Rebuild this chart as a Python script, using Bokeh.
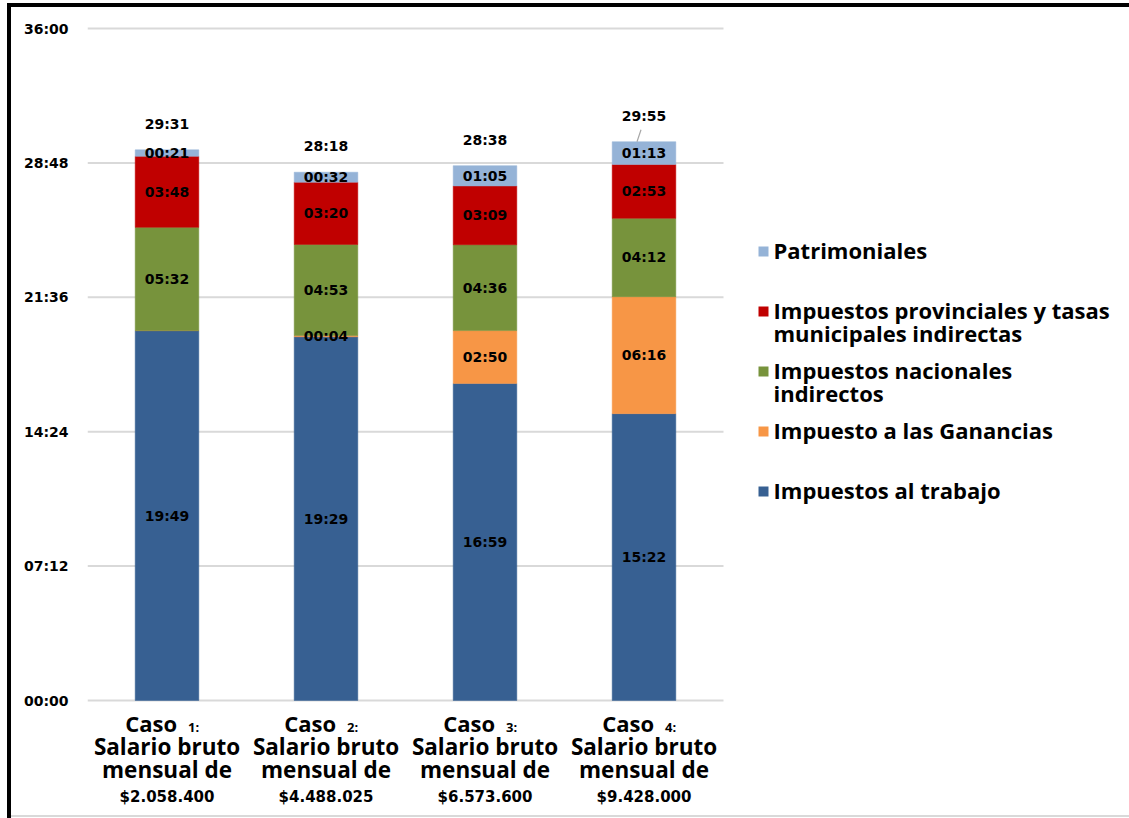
from bokeh.plotting import figure
from bokeh.models import ColumnDataSource, Range1d, FixedTicker
from bokeh.core.properties import value
from bokeh.embed import file_html
from bokeh.resources import INLINE

# ---- data (hours:minutes) ----
caso_nums = ["1:", "2:", "3:", "4:"]
salarios = ["$2.058.400", "$4.488.025", "$6.573.600", "$9.428.000"]

trabajo = ["19:49", "19:29", "16:59", "15:22"]
ganancias = ["00:00", "00:04", "02:50", "06:16"]
nacionales = ["05:32", "04:53", "04:36", "04:12"]
provinciales = ["03:48", "03:20", "03:09", "02:53"]
patrimoniales = ["00:21", "00:32", "01:05", "01:13"]
totales = ["29:31", "28:18", "28:38", "29:55"]

series_names = ["Impuestos al trabajo", "Impuesto a las Ganancias",
                "Impuestos nacionales\nindirectos",
                "Impuestos provinciales y tasas\nmunicipales indirectas",
                "Patrimoniales"]
series_colors = ["#376092", "#F79646", "#77933C", "#C00000", "#95B3D7"]

y_ticks = [0, 432, 864, 1296, 1728, 2160]
y_tick_labels = ["00:00", "07:12", "14:24", "21:36", "28:48", "36:00"]


def to_min(s):
    h, m = s.split(":")
    return int(h) * 60 + int(m)


series = [trabajo, ganancias, nacionales, provinciales, patrimoniales]
keys = ["trabajo", "ganancias", "nacionales", "provinciales", "patrimoniales"]
xs = [1, 2, 3, 4]

data = {"x": xs}
for k, s in zip(keys, series):
    data[k] = [to_min(v) for v in s]
source = ColumnDataSource(data)

# ---- layout: the plotting area spans the canvas right of the y axis ----
W, H = 1129, 818
AXIS_W = 87            # width of the y-axis panel
SLOT = 159             # pixels per bar slot
ZERO_PX = 700          # canvas row of 00:00
PX = 2160 / 672        # minutes per pixel


def X(px):
    """canvas column -> x data coordinate"""
    return 0.5 + (px - AXIS_W) / SLOT


def Y(py):
    """canvas row -> y data coordinate (minutes)"""
    return (ZERO_PX - py) * PX


FONT_NUM = "DejaVu Sans"
FONT_TXT = "Open Sans"

page_css = {
    "background-color": "white",
    "box-shadow": ("inset 7px 3px 0 0 white, inset 11px 7px 0 0 black, "
                   "inset 0 -1px 0 0 white, inset 0 -3px 0 0 #D9D9D9"),
}

p = figure(width=W, height=H, output_backend="svg", toolbar_location=None,
           x_range=Range1d(0.5, X(W)), y_range=Range1d(Y(H), Y(0)),
           min_border=0, min_border_left=AXIS_W,
           outline_line_color=None, background_fill_alpha=0,
           border_fill_alpha=0, styles=page_css)

p.xaxis.visible = False
p.xgrid.grid_line_color = None
p.ygrid.grid_line_color = None

yax = p.yaxis[0]
yax.ticker = FixedTicker(ticks=y_ticks)
yax.major_label_overrides = {t: l for t, l in zip(y_ticks, y_tick_labels)}
yax.axis_line_color = None
yax.major_tick_line_color = None
yax.major_tick_out = 0
yax.major_tick_in = 0
yax.minor_tick_line_color = None
yax.major_label_standoff = 19
yax.major_label_text_font = FONT_NUM
yax.major_label_text_font_style = "bold"
yax.major_label_text_font_size = "14px"
yax.major_label_text_color = "black"

# horizontal gridlines across the bar area only
p.segment(x0=[0.5] * len(y_ticks), x1=[4.5] * len(y_ticks), y0=y_ticks,
          y1=y_ticks, line_color="#D9D9D9", line_width=2)

# stacked bars
p.vbar_stack(keys, x="x", width=0.4, source=source,
             fill_color=series_colors, line_color=series_colors, line_width=0.5)

# value labels inside segments
lx, ly, lt = [], [], []
for i, x in enumerate(xs):
    base = 0
    for k, s in zip(keys, series):
        v = data[k][i]
        if v > 0:
            lx.append(x)
            ly.append(base + v / 2)
            lt.append(s[i])
        base += v
p.text(x=lx, y=ly, text=lt, text_font=value(FONT_NUM), text_font_style="bold",
       text_font_size="14px", text_align="center", text_baseline="middle",
       text_color="black")

# totals above bars
tot = [sum(data[k][i] for k in keys) for i in range(len(xs))]
p.text(x=xs, y=[t + 26 * PX for t in tot], text=totales,
       text_font=value(FONT_NUM), text_font_style="bold",
       text_font_size="14px", text_align="center", text_baseline="middle",
       text_color="black")
# leader line for the last total
p.segment(x0=[xs[3] - 7 / SLOT], y0=[tot[3]], x1=[xs[3] - 3 / SLOT],
          y1=[tot[3] + 12 * PX], line_color="#A6A6A6", line_width=1.2)

# category labels under the bars
n = len(xs)
p.text(x=xs, y=[Y(722)] * n, x_offset=10, text=["Caso"] * n,
       text_font=value(FONT_TXT), text_font_style="bold",
       text_font_size="22px", text_align="right", text_baseline="middle",
       text_color="black")
p.text(x=xs, y=[Y(726)] * n, x_offset=21, text=caso_nums,
       text_font=value(FONT_TXT), text_font_style="bold",
       text_font_size="13px", text_align="left", text_baseline="middle",
       text_color="black")
for py, txt in ((746, "Salario bruto"), (769, "mensual de")):
    p.text(x=xs, y=[Y(py)] * n, text=[txt] * n, text_font=value(FONT_TXT),
           text_font_style="bold", text_font_size="22.5px",
           text_align="center", text_baseline="middle",
           text_color="black")
p.text(x=xs, y=[Y(796)] * n, text=salarios, text_font=value(FONT_NUM),
       text_font_style="bold", text_font_size="15px", text_align="center",
       text_baseline="middle", text_color="black")

# legend, top entry = last stacked series
order = list(range(len(series_names)))[::-1]
mk_y, tx_x, tx_y, tx_t = [], [], [], []
for row, si in enumerate(order):
    row_px = 249 + row * 60
    mk_y.append(Y(row_px + 2))
    for j, line in enumerate(series_names[si].split("\n")):
        tx_x.append(X(773))
        tx_y.append(Y(row_px + j * 23))
        tx_t.append(line)
p.scatter(x=[X(763)] * len(order), y=mk_y, marker="square", size=10,
          fill_color=[series_colors[i] for i in order], line_color=None)
p.text(x=tx_x, y=tx_y, text=tx_t, text_font=value(FONT_TXT),
       text_font_style="bold", text_font_size="22px", text_align="left",
       text_baseline="middle", text_color="black")

open("out.html", "w").write(file_html(p, INLINE))
